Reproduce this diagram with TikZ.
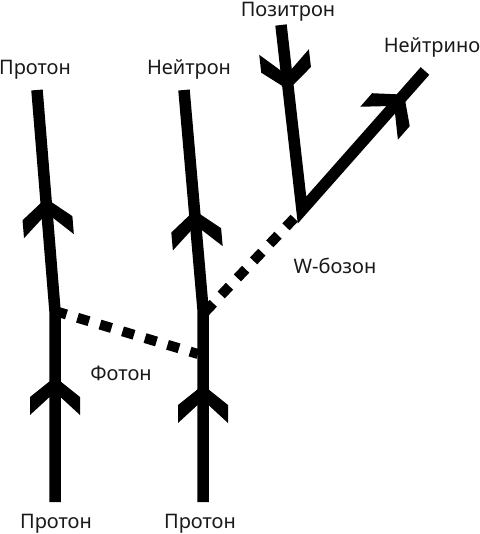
\documentclass[tikz,border=0pt]{standalone}
\usepackage{fontspec}
\setmainfont{Noto Sans}
\usetikzlibrary{calc}
\tikzset{
  particle/.style={line width=11.5pt, line join=miter, line cap=butt},
  boson/.style={line width=10pt, dash pattern=on 12pt off 11.5pt},
  lbl/.style={anchor=base, inner sep=0pt, font=\fontsize{20}{24}\selectfont, text=black!90},
  chev/.pic={\fill (0,0) -- (25,20) -- (25,38) -- (0,15) -- (-25,38) -- (-25,20) -- cycle;}
}
\begin{document}
\begin{tikzpicture}[x=1pt,y=-1pt]
\useasboundingbox (0,0) rectangle (479,534);
% vertices
\coordinate (pa) at (55,502);
\coordinate (pv) at (55,311);
\coordinate (pb) at (37,90);
\coordinate (na) at (203,502);
\coordinate (nv) at (203,309);
\coordinate (nb) at (184,90);
\coordinate (ea) at (281,25);
\coordinate (wv) at (302,210);
\coordinate (nu) at (425,71);
% labels
\node[lbl] (lpt) at (35,75) {Протон};
\node[lbl] (lnt) at (189,75) {Нейтрон};
\node[lbl] (lpz) at (288,17) {Позитрон};
\node[lbl] (lnu) at (432,53) {Нейтрино};
\node[lbl] (lw) at (335,273) {W-бозон};
\node[lbl] (lf) at (121,380) {Фотон};
\node[lbl] (lpa) at (56,528) {Протон};
\node[lbl] (lna) at (200,528) {Протон};
% bosons
\draw[boson] (pv) -- (198,354);
\draw[boson] ($(nv)+(2,3)$) -- (wv);
% fermion lines
\draw[particle] (pa) -- (pv) -- (pb);
\draw[particle] (na) -- (nv) -- (nb);
\draw[particle] (ea) -- (wv) -- (nu);
% arrowheads
\pic at (55,377) {chev};
\pic at (203,385) {chev};
\pic[rotate=4.7] at ($(pv)!0.51!(pb)$) {chev};
\pic[rotate=5] at ($(nv)!0.45!(nb)$) {chev};
\pic[rotate=186.5] at ($(ea)!0.35!(wv)$) {chev};
\pic[rotate=-41.2] at ($(wv)!0.83!(nu)$) {chev};
\end{tikzpicture}
\end{document}
